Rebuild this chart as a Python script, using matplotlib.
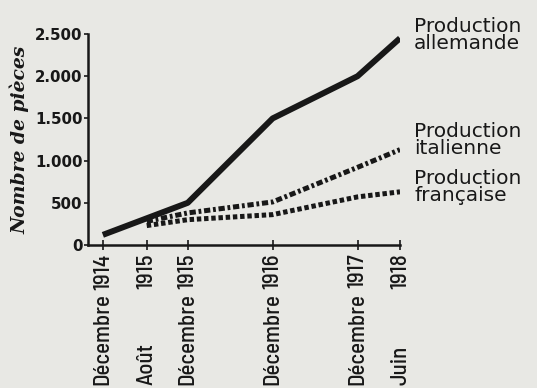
import matplotlib
matplotlib.use('Agg')
import matplotlib.pyplot as plt
from matplotlib import rcParams as rc
from matplotlib.transforms import blended_transform_factory

# months counted from December 1914
tick_pos = [0, 6.2, 12, 24, 36, 42]
tick_month = ['Décembre', 'Août', 'Décembre', 'Décembre', 'Décembre', 'Juin']
tick_year = ['1914', '1915', '1915', '1916', '1917', '1918']

allemande_x = [0, 12, 24, 36, 42]
allemande = [120, 500, 1500, 2000, 2450]

italienne_x = [6.2, 12, 24, 36, 42]
italienne = [280, 380, 510, 920, 1130]

francaise_x = [6.2, 12, 24, 36, 42]
francaise = [230, 300, 360, 570, 630]

y_ticks = [0, 500, 1000, 1500, 2000, 2500]
y_labels = ['0', '500', '1.000', '1.500', '2.000', '2.500']

series_labels = ['Production\nallemande', 'Production\nitalienne', 'Production\nfrançaise']
series_label_y = [2490, 1240, 690]

paper = '#e8e8e4'
ink = '#181818'
cond = ['Barlow Semi Condensed', 'Roboto Condensed', 'DejaVu Sans']

rc['lines.scale_dashes'] = False
rc['font.family'] = cond

fig = plt.figure(figsize=(5.37, 3.88), dpi=100, facecolor=paper)
ax = fig.add_axes([88/537, 1 - 245/388, 312/537, 211/388])
ax.set_facecolor(paper)

ax.plot(allemande_x, allemande, color=ink, lw=4.3, solid_capstyle='butt')
ax.plot(italienne_x, italienne, color=ink, lw=3.6, dashes=(4.5, 2, 2, 2))
ax.plot(francaise_x, francaise, color=ink, lw=3.6, dashes=(3.2, 2))

ax.set_xlim(-2.1, 42)
ax.set_ylim(0, 2500)
for s in ('top', 'right'):
    ax.spines[s].set_visible(False)
for s in ('left', 'bottom'):
    ax.spines[s].set_linewidth(1.8)
    ax.spines[s].set_color(ink)

ax.set_yticks(y_ticks)
ax.set_yticklabels(y_labels, fontsize=10.8, fontweight='bold', color=ink,
                   family='DejaVu Sans')
ax.tick_params(axis='y', direction='out', length=3, width=1.2, pad=1, colors=ink)
ax.set_xticks(tick_pos)
ax.set_xticklabels([])
ax.tick_params(axis='x', direction='inout', length=7, width=1.2, colors=ink)

# year just under the axis, month at the bottom edge
below = blended_transform_factory(ax.transData, ax.transAxes)
for x, m, yr in zip(tick_pos, tick_month, tick_year):
    ax.text(x, -0.04, yr, rotation=90, ha='center', va='top', fontsize=16.5,
            fontweight='medium', color=ink, transform=below, clip_on=False)
    ax.text(x, -0.665, m, rotation=90, ha='center', va='bottom', fontsize=16.5,
            fontweight='medium', color=ink, transform=below, clip_on=False)

ax.set_ylabel('Nombre de pièces', family='DejaVu Serif', style='italic',
              fontweight='bold', fontsize=13.5, color=ink, labelpad=4)

side = blended_transform_factory(ax.transAxes, ax.transData)
for txt, y in zip(series_labels, series_label_y):
    ax.text(1.045, y, txt, transform=side, fontsize=14.5, family='DejaVu Sans',
            color=ink, va='center', ha='left', linespacing=0.85, clip_on=False)

fig.savefig('out.png', dpi=100, facecolor=paper)
